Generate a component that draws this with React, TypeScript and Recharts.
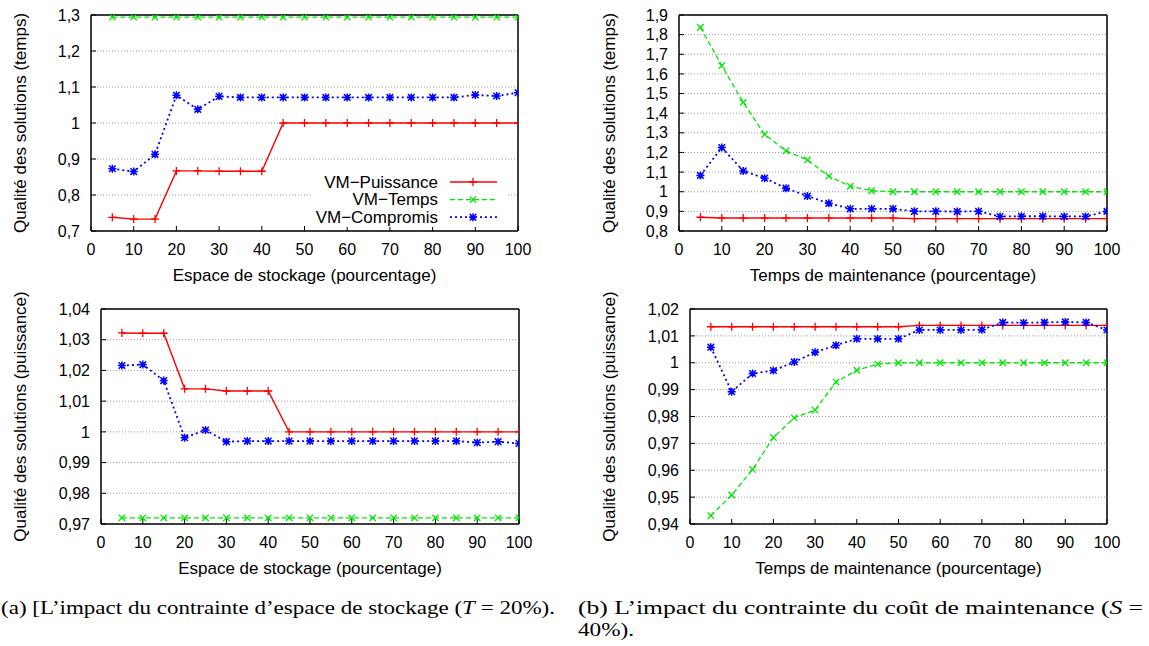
import React from "react";
import { LineChart, Line, XAxis, YAxis, CartesianGrid, Legend, Label } from "recharts";

// x positions (pourcentage)
const xValues = [5, 10, 15, 20, 25, 30, 35, 40, 45, 50, 55, 60, 65, 70, 75, 80, 85, 90, 95, 100];
const xTicks = [0, 10, 20, 30, 40, 50, 60, 70, 80, 90, 100];

// (a) espace de stockage, qualité (temps)
const puissanceStockageTemps = [0.738, 0.733, 0.733, 0.867, 0.867, 0.866, 0.866, 0.866, 1, 1, 1, 1, 1, 1, 1, 1, 1, 1, 1, 1];
const tempsStockageTemps = [1.294, 1.294, 1.294, 1.294, 1.294, 1.294, 1.294, 1.294, 1.294, 1.294, 1.294, 1.294, 1.294, 1.294, 1.294, 1.294, 1.294, 1.294, 1.294, 1.294];
const compromisStockageTemps = [0.873, 0.865, 0.913, 1.077, 1.038, 1.074, 1.071, 1.071, 1.071, 1.071, 1.071, 1.071, 1.071, 1.071, 1.071, 1.071, 1.071, 1.078, 1.075, 1.084];

// (b) temps de maintenance, qualité (temps)
const puissanceMaintTemps = [0.87, 0.866, 0.866, 0.866, 0.866, 0.866, 0.866, 0.866, 0.866, 0.866, 0.863, 0.863, 0.863, 0.863, 0.863, 0.863, 0.863, 0.863, 0.863, 0.863];
const tempsMaintTemps = [1.837, 1.642, 1.455, 1.292, 1.208, 1.162, 1.079, 1.028, 1.005, 1.0, 1.0, 1.0, 1.0, 1.0, 1.0, 1.0, 1.0, 1.0, 1.0, 1.0];
const compromisMaintTemps = [1.083, 1.225, 1.106, 1.069, 1.018, 0.978, 0.941, 0.913, 0.913, 0.913, 0.9, 0.9, 0.899, 0.9, 0.874, 0.875, 0.875, 0.874, 0.874, 0.9];

// (a) espace de stockage, qualité (puissance)
const puissanceStockagePuis = [1.0322, 1.0321, 1.0321, 1.014, 1.014, 1.0133, 1.0133, 1.0133, 1, 1, 1, 1, 1, 1, 1, 1, 1, 1, 1, 1];
const tempsStockagePuis = [0.972, 0.972, 0.972, 0.972, 0.972, 0.972, 0.972, 0.972, 0.972, 0.972, 0.972, 0.972, 0.972, 0.972, 0.972, 0.972, 0.972, 0.972, 0.972, 0.972];
const compromisStockagePuis = [1.0216, 1.0219, 1.0167, 0.9981, 1.0006, 0.9968, 0.997, 0.997, 0.997, 0.997, 0.997, 0.997, 0.997, 0.997, 0.997, 0.997, 0.997, 0.9965, 0.9968, 0.9962];

// (b) temps de maintenance, qualité (puissance)
const puissanceMaintPuis = [1.0134, 1.0134, 1.0134, 1.0134, 1.0134, 1.0134, 1.0134, 1.0134, 1.0134, 1.0134, 1.0139, 1.0139, 1.0139, 1.0139, 1.0139, 1.0139, 1.0139, 1.0139, 1.0139, 1.0139];
const tempsMaintPuis = [0.9431, 0.9508, 0.9603, 0.9722, 0.9795, 0.9824, 0.9928, 0.9972, 0.9995, 1.0, 1.0, 1.0, 1.0, 1.0, 1.0, 1.0, 1.0, 1.0, 1.0, 1.0];
const compromisMaintPuis = [1.0058, 0.9892, 0.996, 0.9971, 1.0003, 1.0039, 1.0065, 1.0089, 1.0089, 1.0089, 1.0122, 1.0122, 1.0122, 1.0123, 1.015, 1.0149, 1.015, 1.0152, 1.015, 1.0122];

const yTicksTemps1 = [0.7, 0.8, 0.9, 1, 1.1, 1.2, 1.3];
const yTicksTemps2 = [0.8, 0.9, 1, 1.1, 1.2, 1.3, 1.4, 1.5, 1.6, 1.7, 1.8, 1.9];
const yTicksPuis1 = [0.97, 0.98, 0.99, 1, 1.01, 1.02, 1.03, 1.04];
const yTicksPuis2 = [0.94, 0.95, 0.96, 0.97, 0.98, 0.99, 1, 1.01, 1.02];

const seriesNames = ["VM−Puissance", "VM−Temps", "VM−Compromis"];

const RED = "#ff0000";
const GREEN = "#00e600";
const BLUE = "#0000ff";
const SANS = "'Liberation Sans', Arial, sans-serif";

type Row = { x: number; puissance: number; temps: number; compromis: number };

function buildRows(p: number[], t: number[], c: number[]): Row[] {
  return xValues.map((x, i) => ({ x, puissance: p[i], temps: t[i], compromis: c[i] }));
}

const fmt = (v: number) => String(Number(v.toFixed(2))).replace(".", ",");

function PlusDot(props: any) {
  const { cx, cy, stroke } = props;
  if (cx == null || cy == null) return null;
  return <path d={`M${cx - 4},${cy}H${cx + 4}M${cx},${cy - 4}V${cy + 4}`} stroke={stroke} strokeWidth={1.3} fill="none" />;
}

function CrossDot(props: any) {
  const { cx, cy, stroke } = props;
  if (cx == null || cy == null) return null;
  const r = 3.2;
  return <path d={`M${cx - r},${cy - r}L${cx + r},${cy + r}M${cx - r},${cy + r}L${cx + r},${cy - r}`} stroke={stroke} strokeWidth={1.3} fill="none" />;
}

function StarDot(props: any) {
  const { cx, cy, stroke } = props;
  if (cx == null || cy == null) return null;
  const r = 3.3;
  return (
    <path
      d={`M${cx - 4},${cy}H${cx + 4}M${cx},${cy - 4}V${cy + 4}M${cx - r},${cy - r}L${cx + r},${cy + r}M${cx - r},${cy + r}L${cx + r},${cy - r}`}
      stroke={stroke}
      strokeWidth={1.5}
      fill="none"
    />
  );
}

function LegendBox() {
  const rows = [
    { name: seriesNames[0], color: RED, dash: undefined, Dot: PlusDot, w: 1.4 },
    { name: seriesNames[1], color: GREEN, dash: "5 3", Dot: CrossDot, w: 1.3 },
    { name: seriesNames[2], color: BLUE, dash: "2 3", Dot: StarDot, w: 1.8 },
  ];
  return (
    <svg width={196} height={56} style={{ display: "block", background: "#fff" }}>
      {rows.map((r, i) => {
        const y = 11 + i * 17.6;
        return (
          <g key={r.name}>
            <text x={126} y={y} textAnchor="end" dominantBaseline="central" fontSize={17} fontFamily={SANS} fill="#000">
              {r.name}
            </text>
            <line x1={138} x2={185} y1={y} y2={y} stroke={r.color} strokeWidth={r.w} strokeDasharray={r.dash} />
            <r.Dot cx={161} cy={y} stroke={r.color} />
          </g>
        );
      })}
    </svg>
  );
}

interface PanelProps {
  left: number;
  top: number;
  width: number;
  height: number;
  plotLeft: number;
  plotRight: number;
  plotTop: number;
  plotBottom: number;
  yDomain: [number, number];
  yTicks: number[];
  xLabel: string;
  yLabel: string;
  yLabelX: number;
  rows: Row[];
  showLegend?: boolean;
}

function Panel(p: PanelProps) {
  const frame = { stroke: "#000", strokeWidth: 1.5 };
  return (
    <div style={{ position: "absolute", left: p.left, top: p.top }}>
      <LineChart
        width={p.width}
        height={p.height}
        data={p.rows}
        margin={{ top: p.plotTop - 1, right: p.width - p.plotRight - 1, bottom: 0, left: 0 }}
      >
        <CartesianGrid vertical={false} stroke="#9a9a9a" strokeDasharray="1 2" />
        <XAxis
          dataKey="x"
          type="number"
          domain={[0, 100]}
          ticks={xTicks}
          interval={0}
          allowDataOverflow
          height={p.height - p.plotBottom}
          stroke="#000"
          tickSize={-5}
          tickMargin={18}
          axisLine={frame}
          tick={{ fill: "#000", fontSize: 16, fontFamily: SANS }}
        >
          <Label
            content={(lp: any) => {
              const vb = lp.viewBox;
              return (
                <text x={vb.x + vb.width / 2} y={vb.y + 44} textAnchor="middle" dominantBaseline="central" fontSize={17} fontFamily={SANS} fill="#000">
                  {p.xLabel}
                </text>
              );
            }}
          />
        </XAxis>
        <XAxis
          xAxisId="top"
          orientation="top"
          dataKey="x"
          type="number"
          domain={[0, 100]}
          ticks={xTicks}
          interval={0}
          allowDataOverflow
          height={1}
          stroke="#000"
          tickSize={-5}
          axisLine={frame}
          tick={false}
        />
        <YAxis
          type="number"
          domain={p.yDomain}
          ticks={p.yTicks}
          interval={0}
          allowDataOverflow
          width={p.plotLeft}
          stroke="#000"
          tickSize={-5}
          tickMargin={16}
          tickFormatter={fmt}
          axisLine={frame}
          tick={{ fill: "#000", fontSize: 16, fontFamily: SANS }}
        >
          <Label
            content={(lp: any) => {
              const vb = lp.viewBox;
              const cy = vb.y + vb.height / 2;
              return (
                <text
                  x={p.yLabelX}
                  y={cy}
                  transform={`rotate(-90 ${p.yLabelX} ${cy})`}
                  textAnchor="middle"
                  dominantBaseline="central"
                  fontSize={17}
                  fontFamily={SANS}
                  fill="#000"
                >
                  {p.yLabel}
                </text>
              );
            }}
          />
        </YAxis>
        <YAxis
          yAxisId="right"
          orientation="right"
          type="number"
          domain={p.yDomain}
          ticks={p.yTicks}
          interval={0}
          allowDataOverflow
          width={1}
          stroke="#000"
          tickSize={-5}
          axisLine={frame}
          tick={false}
        />
        <Line dataKey="puissance" name={seriesNames[0]} stroke={RED} strokeWidth={1.4} dot={<PlusDot />} activeDot={false} isAnimationActive={false} />
        <Line dataKey="temps" name={seriesNames[1]} stroke={GREEN} strokeWidth={1.3} strokeDasharray="5 3" dot={<CrossDot />} activeDot={false} isAnimationActive={false} />
        <Line dataKey="compromis" name={seriesNames[2]} stroke={BLUE} strokeWidth={1.8} strokeDasharray="2 3" dot={<StarDot />} activeDot={false} isAnimationActive={false} />
        {p.showLegend && (
          <Legend
            layout="vertical"
            align="center"
            verticalAlign="middle"
            width={196}
            height={56}
            wrapperStyle={{ left: 312, top: 171, width: 196, height: 56 }}
            content={() => <LegendBox />}
          />
        )}
      </LineChart>
    </div>
  );
}

export default function App() {
  return (
    <div style={{ position: "absolute", left: 0, top: 0, width: 1149, height: 646, background: "#fff", overflow: "hidden", fontFamily: SANS }}>
      <Panel
        left={0}
        top={0}
        width={540}
        height={290}
        plotLeft={91}
        plotRight={518}
        plotTop={15}
        plotBottom={231}
        yDomain={[0.7, 1.3]}
        yTicks={yTicksTemps1}
        xLabel="Espace de stockage (pourcentage)"
        yLabel="Qualité des solutions (temps)"
        yLabelX={20}
        rows={buildRows(puissanceStockageTemps, tempsStockageTemps, compromisStockageTemps)}
        showLegend
      />
      <Panel
        left={560}
        top={0}
        width={580}
        height={290}
        plotLeft={119}
        plotRight={547}
        plotTop={15}
        plotBottom={231}
        yDomain={[0.8, 1.9]}
        yTicks={yTicksTemps2}
        xLabel="Temps de maintenance (pourcentage)"
        yLabel="Qualité des solutions (temps)"
        yLabelX={49}
        rows={buildRows(puissanceMaintTemps, tempsMaintTemps, compromisMaintTemps)}
      />
      <Panel
        left={0}
        top={290}
        width={540}
        height={300}
        plotLeft={101}
        plotRight={519}
        plotTop={19}
        plotBottom={234}
        yDomain={[0.97, 1.04]}
        yTicks={yTicksPuis1}
        xLabel="Espace de stockage (pourcentage)"
        yLabel="Qualité des solutions (puissance)"
        yLabelX={20}
        rows={buildRows(puissanceStockagePuis, tempsStockagePuis, compromisStockagePuis)}
      />
      <Panel
        left={560}
        top={290}
        width={580}
        height={300}
        plotLeft={130}
        plotRight={547}
        plotTop={19}
        plotBottom={234}
        yDomain={[0.94, 1.02]}
        yTicks={yTicksPuis2}
        xLabel="Temps de maintenance (pourcentage)"
        yLabel="Qualité des solutions (puissance)"
        yLabelX={49}
        rows={buildRows(puissanceMaintPuis, tempsMaintPuis, compromisMaintPuis)}
      />
      <svg style={{ position: "absolute", left: 0, top: 590 }} width={1149} height={56}>
        <g fontFamily="'Liberation Serif', 'DejaVu Serif', serif" fontSize={19} fill="#000">
          <text x={1} y={24} textLength={554} lengthAdjust="spacingAndGlyphs">
            (a) [L’impact du contrainte d’espace de stockage (<tspan fontStyle="italic">T</tspan> = 20%).
          </text>
          <text x={578} y={24} textLength={565} lengthAdjust="spacingAndGlyphs">
            (b) L’impact du contrainte du coût de maintenance (<tspan fontStyle="italic">S</tspan> =
          </text>
          <text x={578} y={46} textLength={56} lengthAdjust="spacingAndGlyphs">
            40%).
          </text>
        </g>
      </svg>
    </div>
  );
}
